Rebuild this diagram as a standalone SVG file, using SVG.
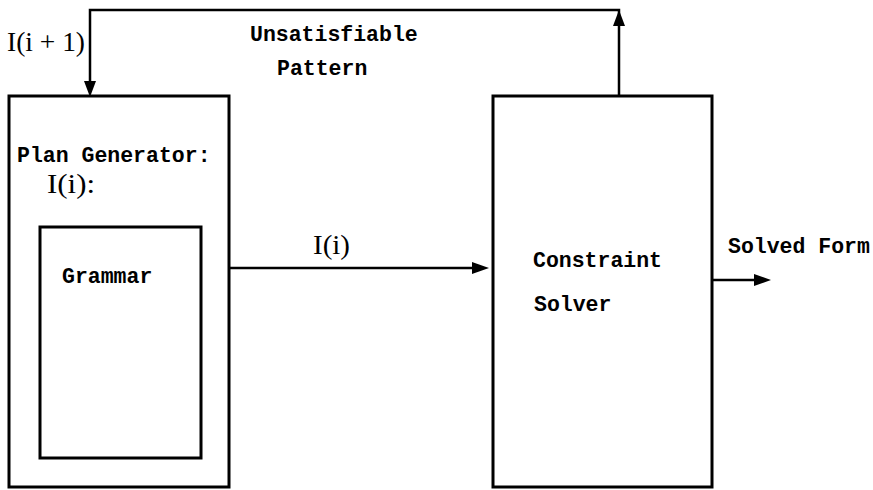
<svg xmlns="http://www.w3.org/2000/svg" width="873" height="490" viewBox="0 0 873 490">
<style>
.box{fill:none;stroke:#000;stroke-width:3}
.ln{fill:none;stroke:#000;stroke-width:2.5}
.ah{fill:#000}
.mono{font-family:"Liberation Mono","Courier New",monospace;font-weight:bold;font-size:21.5px;fill:#000}
.math{font-family:"Liberation Serif","Times New Roman",serif;font-size:27px;fill:#000}
</style>
<g id="connectors">
<path class="ln" d="M619,96 V10 H90 V82"/>
<path class="ah" d="M90,97 L84,81 L96,81 Z"/>
<path class="ah" d="M619,10 L613,26 L625,26 Z"/>
<path class="ln" d="M229,268 H472"/>
<path class="ah" d="M489,268 L472,262 L472,274 Z"/>
<path class="ln" d="M712,280 H754"/>
<path class="ah" d="M771,280 L754,274 L754,286 Z"/>
</g>
<g id="labels">
<text class="math" x="7" y="51" textLength="78" lengthAdjust="spacingAndGlyphs">I(i + 1)</text>
<text class="mono" x="250" y="41">Unsatisfiable</text>
<text class="mono" x="277" y="75">Pattern</text>
<text class="math" x="313" y="254" textLength="37" lengthAdjust="spacingAndGlyphs">I(i)</text>
<text class="mono" x="728" y="253">Solved Form</text>
</g>
<g id="plan-generator">
<rect class="box" x="9" y="96" width="220" height="391"/>
<text class="mono" x="17" y="162">Plan Generator:</text>
<text class="math" x="47" y="193" textLength="48" lengthAdjust="spacingAndGlyphs">I(i):</text>
</g>
<g id="grammar">
<rect class="box" x="40" y="227" width="161" height="231"/>
<text class="mono" x="62" y="283">Grammar</text>
</g>
<g id="constraint-solver">
<rect class="box" x="493" y="96" width="219" height="391"/>
<text class="mono" x="533" y="267">Constraint</text>
<text class="mono" x="534" y="311">Solver</text>
</g>
</svg>
